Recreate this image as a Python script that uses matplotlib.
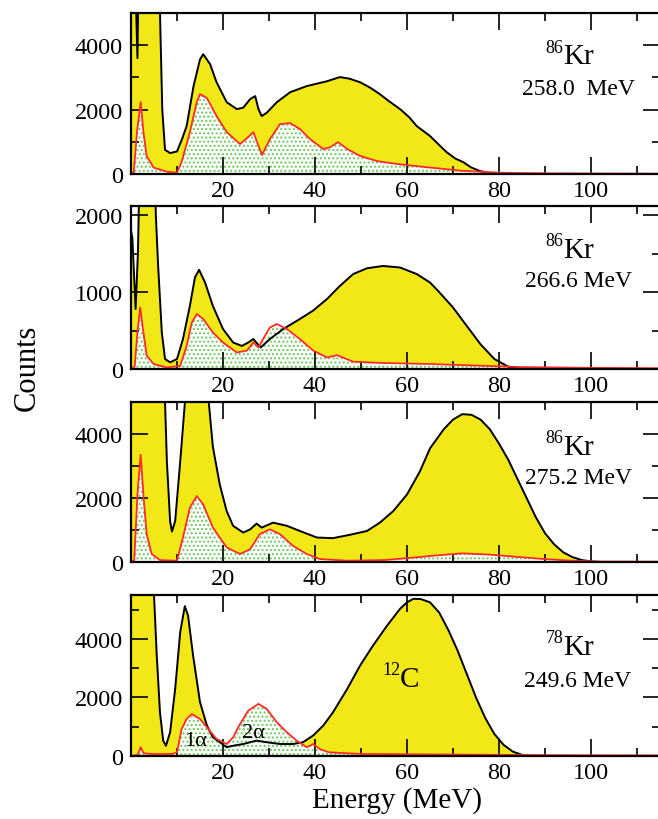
import matplotlib
matplotlib.use("Agg")
import matplotlib.pyplot as plt
from matplotlib.ticker import MultipleLocator, FixedLocator

plt.rcParams['font.family'] = ['Liberation Serif', 'DejaVu Serif']

# === DATA ===
# panel 1: 86Kr, 258.0 MeV
p1_black_x = [0, 0.4, 1.4, 1.9, 5.8, 6.2, 6.8, 7.4, 8.5, 10, 11.1, 12.1, 13.6, 15, 15.7, 17.2, 18.6, 20.8, 23,
              24.4, 25.9, 27, 27.7, 28.4, 29.5, 31.7, 34.6, 38.2, 42.6, 45.4, 47.5, 49.8, 52, 54.1, 56, 58.5,
              60.5, 62.1, 65, 67, 68.6, 70.5, 72.2, 74, 75.9, 77.5, 79.5, 82, 115]
p1_black_y = [9000, 9000, 3600, 9000, 9000, 5600, 2000, 750, 650, 700, 1085, 1490, 2730, 3560, 3720, 3410, 2850,
              2230, 2015, 2060, 2325, 2420, 2020, 1800, 1900, 2230, 2540, 2730, 2880, 3010, 2960, 2850, 2680,
              2480, 2270, 2015, 1760, 1490, 1180, 900, 680, 480, 370, 200, 90, 45, 20, 0, 0]
p1_red_x = [0, 0.6, 1.3, 2.1, 2.7, 3.4, 4.9, 7.8, 10, 11, 12.8, 14.3, 15, 16.5, 18.6, 20.8, 23.7, 25.5, 26.6,
            27.7, 28.5, 30.2, 32.4, 34.6, 36.7, 38.9, 41.8, 43.3, 45, 47, 49.8, 53.5, 58.5, 65, 72, 80, 90, 115]
p1_red_y = [0, 50, 1300, 2230, 1300, 560, 200, 70, 40, 370, 1300, 2230, 2480, 2360, 1800, 1300, 930, 1150, 1300,
            880, 590, 1085, 1550, 1580, 1400, 1085, 775, 830, 990, 775, 560, 400, 300, 200, 100, 40, 20, 10]

# panel 2: 86Kr, 266.6 MeV
p2_black_x = [0, 0.3, 1.0, 1.5, 2.0, 5.0, 5.4, 5.9, 6.7, 7.4, 8.5, 10, 11.3, 12.8, 13.9, 14.8, 16.1, 17.8, 20,
              22.2, 24.1, 25.5, 26.6, 27.3, 28.2, 30.2, 33.1, 36.7, 39.6, 42.6, 45.4, 48.3, 51.3, 54.8, 58.5,
              62.1, 65, 67, 70, 73, 76, 79, 82, 85, 115]
p2_black_y = [1800, 1700, 780, 1500, 3000, 3000, 2000, 1340, 475, 130, 87, 130, 390, 820, 1190, 1290, 1125, 820,
              520, 345, 300, 345, 390, 340, 280, 390, 520, 650, 760, 910, 1080, 1235, 1310, 1340, 1320, 1235,
              1125, 1000, 800, 560, 320, 130, 30, 0, 0]
p2_red_x = [0, 0.8, 1.4, 2, 2.7, 3.4, 4.9, 7.8, 10.7, 12.1, 13.2, 14.3, 15.7, 17.8, 20, 23, 25.2, 26.6, 27.7,
            28.7, 30.2, 31.7, 33.9, 36.7, 39.6, 42.6, 44.8, 48.3, 54.8, 65, 75, 85, 100, 115]
p2_red_y = [0, 30, 475, 800, 475, 175, 65, 20, 40, 300, 600, 715, 650, 475, 345, 215, 240, 345, 280, 390, 540,
            585, 520, 390, 240, 150, 180, 95, 78, 65, 45, 25, 15, 10]

# panel 3: 86Kr, 275.2 MeV
p3_black_x = [0, 6.8, 7.4, 7.8, 8.5, 8.9, 9.6, 10.7, 11.7, 12.2, 16.4, 16.9, 17.8, 19.3, 20.8, 22.2, 24.4, 25.9,
              27.3, 28.4, 30.9, 33.9, 36.7, 40.4, 43.9, 47.6, 51.3, 54.1, 57, 60, 62.8, 65, 68, 70, 72, 74, 76,
              78, 80, 82, 84, 86, 88, 90, 92, 94, 96, 98, 100, 102, 115]
p3_black_y = [9000, 9000, 5000, 3140, 1280, 950, 1280, 3140, 4950, 9000, 9000, 5000, 3600, 2420, 1590, 1130, 920,
              1020, 1200, 1075, 1230, 1130, 970, 765, 745, 850, 970, 1230, 1590, 2110, 2830, 3550, 4150, 4450,
              4620, 4600, 4450, 4150, 3700, 3200, 2600, 2000, 1400, 900, 550, 300, 150, 60, 20, 0, 0]
p3_red_x = [0, 0.7, 1.4, 2.1, 2.7, 3.4, 4.5, 6.3, 10, 11.3, 12.8, 14.3, 15.7, 17.8, 20.8, 23.7, 25.9, 28, 30.2,
            32.4, 35.2, 38.2, 41, 47, 55, 60, 66, 72, 78, 84, 90, 96, 102, 115]
p3_red_y = [0, 50, 2100, 3350, 2100, 870, 250, 60, 40, 765, 1700, 2060, 1800, 1075, 455, 250, 400, 870, 1020,
            870, 505, 250, 95, 40, 60, 120, 200, 270, 230, 160, 90, 40, 15, 10]

# panel 4: 78Kr, 249.6 MeV
p4_black_x = [0, 4.8, 5.0, 5.6, 6.3, 7, 7.6, 8.5, 9.6, 10.7, 11.7, 12.4, 13.5, 15, 16.5, 17.8, 19.3, 20.8, 22.2,
              24.4, 27.3, 29.5, 32.4, 35.2, 37.4, 39.6, 41.8, 43.9, 47, 49.8, 52.6, 55.7, 58.5, 60, 61.4, 63,
              65, 67, 69, 71, 73, 75, 77, 79, 81, 83, 85, 87, 115]
p4_black_y = [9000, 9000, 5500, 3430, 1490, 525, 350, 810, 2290, 4230, 5120, 4800, 3430, 1840, 1040, 640, 470,
              300, 350, 410, 525, 470, 410, 410, 470, 700, 1040, 1490, 2290, 3090, 3770, 4460, 5030, 5250, 5370,
              5360, 5250, 4900, 4300, 3600, 2800, 2000, 1300, 750, 380, 150, 40, 0, 0]
p4_red_x = [0, 1.5, 2.1, 2.7, 4, 9, 10, 11, 12.1, 13.2, 15, 16.5, 18.6, 20.8, 22.2, 23.7, 25.5, 27.7, 29.5,
            31.7, 33.9, 36, 38.2, 39.6, 41, 43, 50, 70, 90, 115]
p4_red_y = [0, 50, 300, 100, 70, 70, 125, 920, 1265, 1435, 1265, 980, 580, 410, 640, 1095, 1550, 1780, 1610,
            1150, 810, 525, 300, 410, 240, 125, 70, 50, 30, 20]

panels = [
    (p1_black_x, p1_black_y, p1_red_x, p1_red_y, 5000, 2000, 1000, "86", "258.0  MeV"),
    (p2_black_x, p2_black_y, p2_red_x, p2_red_y, 2120, 1000, 500, "86", "266.6 MeV"),
    (p3_black_x, p3_black_y, p3_red_x, p3_red_y, 5000, 2000, 1000, "86", "275.2 MeV"),
    (p4_black_x, p4_black_y, p4_red_x, p4_red_y, 5500, 2000, 1000, "78", "249.6 MeV"),
]
energy_y = [0.528, 0.54, 0.531, 0.466]
kr_y = [0.73, 0.73, 0.72, 0.68]

# axes boxes in pixels (top, bottom) of the 658x820 figure
W, H = 658, 820
boxes = [(14, 175), (207, 370), (403, 563), (596, 757)]
left_px, right_px = 131, 660

YELLOW = '#f2e817'
RED = '#ff2a2a'
GREEN = '#6cc95a'

fig = plt.figure(figsize=(W / 100, H / 100), dpi=100)

for i, ((bx, by, rx, ry, ymax, ymaj, ymin, mass, energy), (top, bot)) in enumerate(zip(panels, boxes)):
    ax = fig.add_axes([left_px / W, 1 - bot / H, (right_px - left_px) / W, (bot - top) / H])
    ax.fill_between(bx, by, 0, facecolor=YELLOW, linewidth=0)
    ax.fill_between(rx, ry, 0, facecolor='white', edgecolor=GREEN, hatch='....', linewidth=0)
    ax.plot(bx, by, color='black', lw=1.4)
    ax.plot(rx, ry, color=RED, lw=1.3)

    ax.set_xlim(0, (right_px - left_px) / 4.6)
    ax.set_ylim(0, ymax)
    ax.xaxis.set_major_locator(FixedLocator([20, 40, 60, 80, 100]))
    ax.xaxis.set_minor_locator(FixedLocator([10, 30, 50, 70, 90, 110]))
    ax.yaxis.set_major_locator(MultipleLocator(ymaj))
    ax.yaxis.set_minor_locator(MultipleLocator(ymin))
    ax.tick_params(which='both', direction='in', top=True, right=True, width=1.2, labelsize=17.5)
    ax.tick_params(which='major', length=12)
    ax.tick_params(which='minor', length=6)
    ax.tick_params(axis='y', pad=6)
    ax.tick_params(axis='x', pad=4)
    for s in ax.spines.values():
        s.set_linewidth(1.6)

    # isotope and beam energy label
    kr = ax.text(0.817, kr_y[i], "Kr", transform=ax.transAxes, fontsize=21, ha='left', va='center')
    ax.annotate(mass, xy=(0, 0.85), xycoords=kr, fontsize=13, ha='right', va='center')
    ax.text(0.845, energy_y[i], energy, transform=ax.transAxes, fontsize=17, ha='center', va='center')

    last_ax = ax

# labels in the bottom panel
c12 = last_ax.text(58.5, 2630, "C", fontsize=21, ha='left', va='center')
last_ax.annotate("12", xy=(0, 0.85), xycoords=c12, fontsize=13, ha='right', va='center')
last_ax.text(14.1, 520, "1\u03b1", fontsize=16, ha='center', va='center')
last_ax.text(26.7, 800, "2\u03b1", fontsize=16, ha='center', va='center')

fig.text(27 / W, 0.552, "Counts", rotation=90, fontsize=22, ha='center', va='center')
fig.text(397 / W, 0.024, "Energy (MeV)", fontsize=21, ha='center', va='center')

plt.savefig("out.png", dpi=100)
